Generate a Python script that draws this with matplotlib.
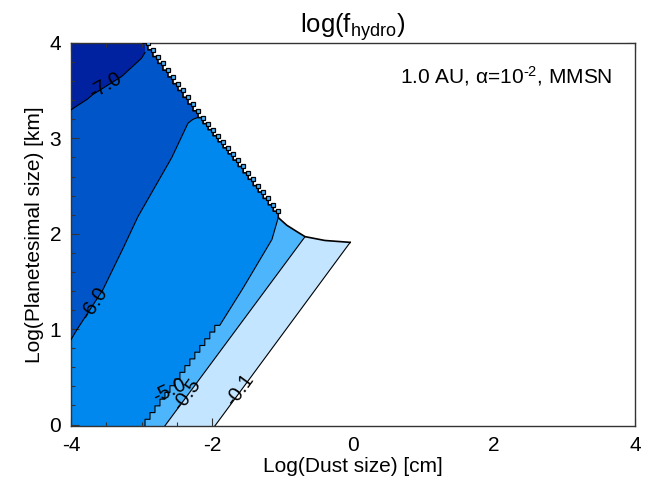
"""
log(f_hydro) contour map over dust size and planetesimal size (1 AU, alpha=1e-2, MMSN).

Filled bands are built from the contour lines read off the original figure;
the domain edge (white beyond it) and the lower part of the -5 contour are
drawn cell by cell on the model grid, like the original contour routine did.
"""
import numpy as np
import matplotlib
matplotlib.use("Agg")
import matplotlib.pyplot as plt

plt.rcParams["font.family"] = ["Liberation Sans", "DejaVu Sans"]
plt.rcParams["mathtext.fontset"] = "custom"
plt.rcParams["mathtext.rm"] = "Liberation Sans"
plt.rcParams["mathtext.it"] = "Liberation Sans"
plt.rcParams["mathtext.default"] = "regular"
plt.rcParams["axes.unicode_minus"] = False

X_RANGE = (-4.0, 4.0)
Y_RANGE = (-0.015, 4.0)
GRID_STEP = 0.071          # model grid spacing (log units)

# ---- contour lines (x = log dust size [cm], y = log planetesimal size [km]) ----
L7_X = [-4.00, -3.77, -3.69, -3.28, -3.00, -2.95]
L7_Y = [3.30, 3.41, 3.46, 3.65, 3.84, 3.90]

L6_X = [-4.00, -3.92, -3.55, -3.26, -3.05, -2.57, -2.34, -2.27, -2.20]
L6_Y = [0.89, 0.99, 1.41, 1.85, 2.18, 2.80, 3.16, 3.20, 3.22]

L5_STAIR_X = [-2.95, -1.89]          # grid-stepped lower part
L5_STAIR_Y = [-0.015, 1.04]
L5_X = [-1.89, -1.56, -1.15, -1.06]
L5_Y = [1.04, 1.43, 1.94, 2.17]

L05_X = [-2.67, -0.68]
L05_Y = [-0.015, 1.97]

L01_X = [-1.96, -0.04]
L01_Y = [-0.015, 1.91]

# ---- edge of the computed domain ----
EDGE_STAIR_X = [-2.98, -2.20, -1.74, -1.06]
EDGE_STAIR_Y = [4.00, 3.22, 2.81, 2.17]
EDGE_X = [-1.06, -0.94, -0.79, -0.68, -0.61, -0.40, -0.04]
EDGE_Y = [2.17, 2.09, 2.02, 1.97, 1.96, 1.93, 1.91]

# ---- labels on the contours ----
LABELS = ["-7.0", "-6.0", "-5.0", "-0.5", "-0.1"]
LABEL_X = [-3.52, -3.68, -2.60, -2.36, -1.60]
LABEL_Y = [3.55, 1.27, 0.36, 0.31, 0.36]
LABEL_ROT = [30, 57, 25, 54, 54]

COLORS = ["#0022a0", "#0055c8", "#0088ee", "#4cb5fc", "#c4e5ff"]


def stairs(xs, ys, down=True):
    """Resample a boundary on the model grid and return its stepped outline."""
    n = max(1, int(round((xs[-1] - xs[0]) / GRID_STEP)))
    xg = np.linspace(xs[0], xs[-1], n + 1)
    yg = np.interp(xg, xs, ys)
    px, py = [xg[0]], [yg[0]]
    for i in range(1, len(xg)):
        if down:
            px += [xg[i], xg[i]]
            py += [yg[i - 1], yg[i]]
        else:
            px += [xg[i - 1], xg[i]]
            py += [yg[i], yg[i]]
    return np.array(px), np.array(py)


fig = plt.figure(figsize=(6.6, 4.93), dpi=100)
ax = fig.add_axes([71 / 660, 1 - 426 / 493, 564 / 660, 383 / 493])
x0, x1 = X_RANGE
y0, y1 = Y_RANGE

# bands, from the outermost inward
ax.fill([x0, x1, x1, x0], [y0, y0, y1, y1], color=COLORS[4], lw=0, zorder=1)
ax.fill(L05_X + [L05_X[-1], x0, x0], L05_Y + [y1, y1, y0],
        color=COLORS[3], lw=0, zorder=1)
sx5, sy5 = stairs(L5_STAIR_X, L5_STAIR_Y, down=False)
l5x = list(sx5) + L5_X[1:]
l5y = list(sy5) + L5_Y[1:]
ax.fill(l5x + [L5_X[-1], x0, x0], l5y + [y1, y1, y0],
        color=COLORS[2], lw=0, zorder=1)
ax.fill(L6_X + [L6_X[-1], x0], L6_Y + [y1, y1], color=COLORS[1], lw=0, zorder=1)
ax.fill(L7_X + [L7_X[-1], x0], L7_Y + [y1, y1], color=COLORS[0], lw=0, zorder=1)

# white beyond the domain edge
ex, ey = stairs(EDGE_STAIR_X, EDGE_STAIR_Y, down=True)
wx = list(ex) + EDGE_X[1:] + L01_X[::-1] + [x1, x1]
wy = list(ey) + EDGE_Y[1:] + L01_Y[::-1] + [y0, y1]
ax.fill(wx, wy, color="white", lw=0, zorder=2)

# contour lines
line_kw = dict(color="black", lw=0.8, zorder=3)
ax.plot(L7_X, L7_Y, **line_kw)
ax.plot(L6_X, L6_Y, **line_kw)
ax.plot(l5x, l5y, **line_kw)
ax.plot(L05_X, L05_Y, **line_kw)
ax.plot(L01_X, L01_Y, **line_kw)
ax.plot(list(ex) + EDGE_X[1:], list(ey) + EDGE_Y[1:], color="black", lw=1.2, zorder=3)
# the squeezed bands show as small cells along the stepped edge
ax.plot(ex[1::2], ey[1::2], "s", ms=3.0, mfc=COLORS[3], mec="black", mew=0.9, zorder=4)

for txt, lx, ly, rot in zip(LABELS, LABEL_X, LABEL_Y, LABEL_ROT):
    ax.text(lx, ly, txt, rotation=rot, ha="center", va="center",
            fontsize=14.5, rotation_mode="anchor", zorder=5)

ax.set_xlim(X_RANGE)
ax.set_ylim(Y_RANGE)
ax.set_xticks([-4, -2, 0, 2, 4])
ax.set_xticks(np.arange(-4, 4.01, 0.5), minor=True)
ax.set_yticks([0, 1, 2, 3, 4])
ax.set_yticks(np.arange(0, 4.01, 0.2), minor=True)
ax.tick_params(which="both", direction="in", top=True, right=True,
               labelsize=15, width=0.8, color="#333333")
ax.tick_params(which="major", length=5.5, pad=7)
ax.tick_params(which="minor", length=3)
for sp in ax.spines.values():
    sp.set_linewidth(1.0)
    sp.set_color("#333333")

ax.set_xlabel("Log(Dust size) [cm]", fontsize=15, labelpad=2)
ax.set_ylabel("Log(Planetesimal size) [km]", fontsize=15, labelpad=4)
ax.set_title(r"log(f$_{hydro}$)", fontsize=18.5, pad=7)
ax.text(0.96, 0.915, "1.0 AU, α=10$^{\u2010 2}$, MMSN", transform=ax.transAxes,
        ha="right", va="center", fontsize=15, zorder=6)

fig.savefig("out.png", dpi=100)
